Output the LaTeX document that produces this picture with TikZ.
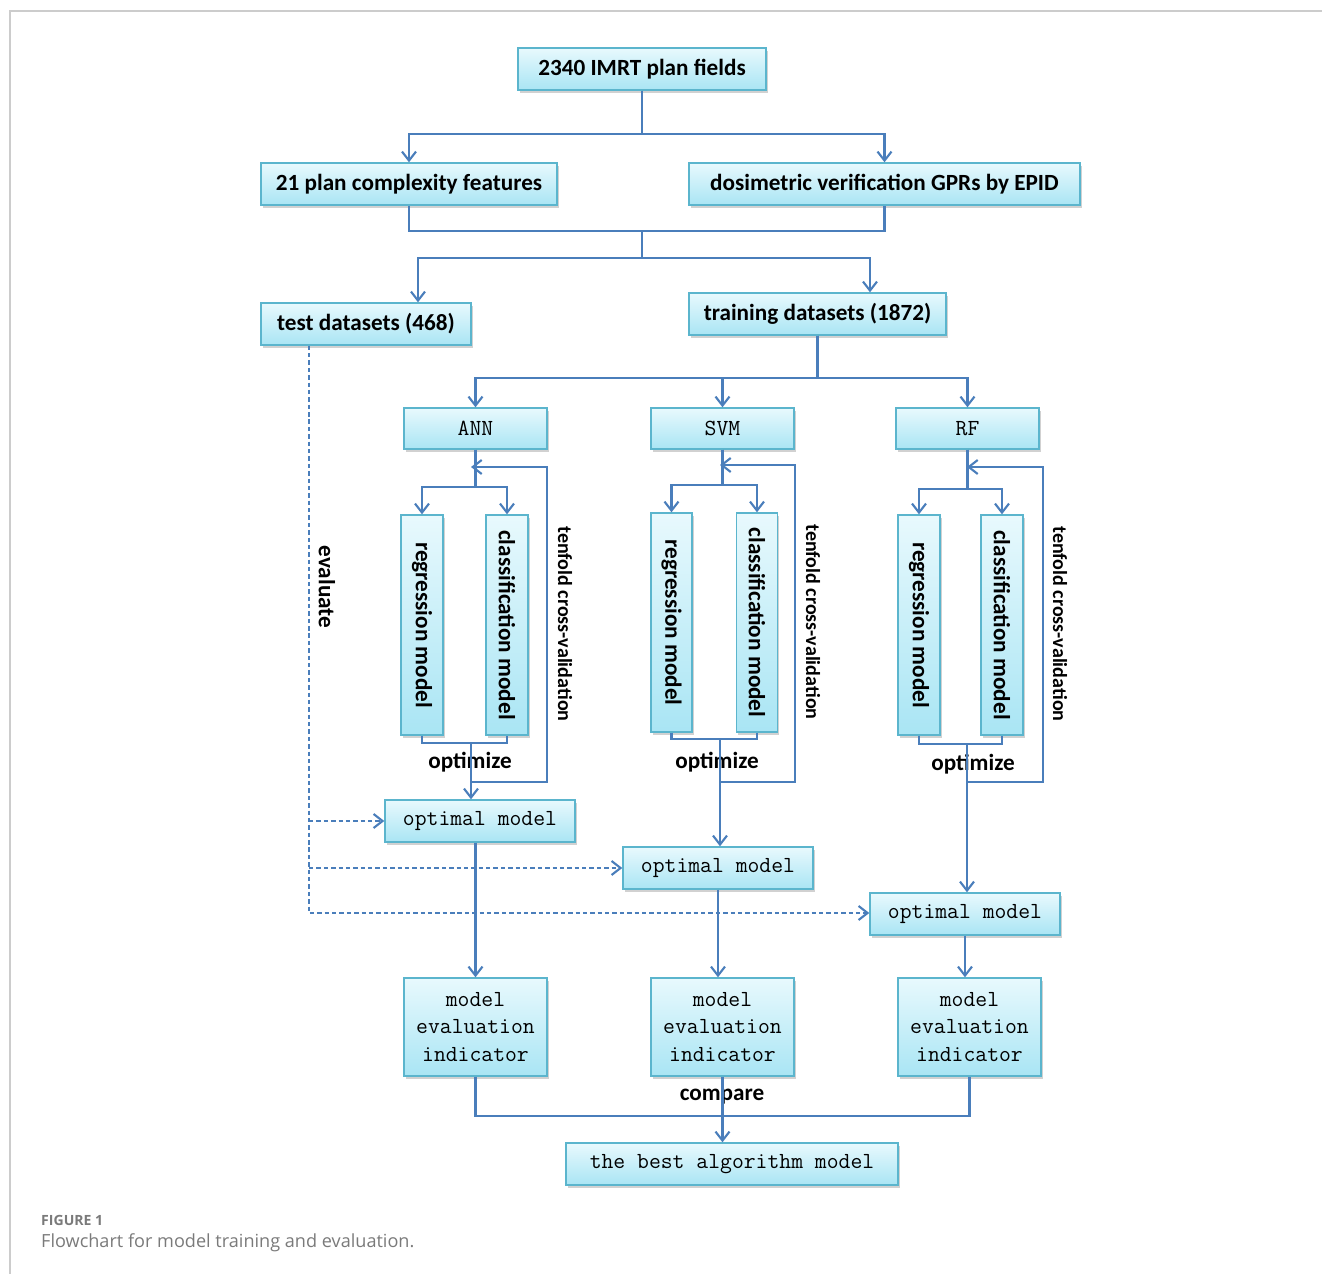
\documentclass[tikz,border=0pt]{standalone}
\usepackage{fontspec}
\setmainfont{Carlito}
\newfontfamily\capfont{Open Sans}
\usetikzlibrary{arrows.meta,shadows}

\definecolor{boxline}{HTML}{5BB5CD}
\definecolor{boxtop}{HTML}{E8F9FD}
\definecolor{boxbot}{HTML}{A9E5F4}
\definecolor{flow}{HTML}{4A7EBB}
\definecolor{framegray}{HTML}{CCCCCC}
\definecolor{captxt}{HTML}{7A7A7A}

\tikzset{
    box/.style 2 args={draw=boxline, line width=0.8pt, top color=boxtop, bottom color=boxbot,
        drop shadow={shadow xshift=1pt, shadow yshift=-1.5pt, fill=black!30, opacity=.6},
        minimum width={#1*0.02cm}, minimum height={#2*0.02cm}, inner sep=0pt},
    cal/.style={font=\bfseries\fontsize{13.2}{15}\selectfont},
    sim/.style={font=\ttfamily\fontsize{13.1}{15.9}\selectfont, align=center},
    lbl/.style={font=\bfseries\fontsize{13.2}{15}\selectfont},
    small/.style={font=\bfseries\fontsize{11.4}{13}\selectfont},
    flow/.style={draw=flow, line width=1.2pt},
    arr/.style={flow, -{Straight Barb[length=1.8mm, width=2.8mm]}},
    evline/.style={arr, dash pattern=on 2.5pt off 1.7pt},
}

\begin{document}
\begin{tikzpicture}[x=0.02cm, y=-0.02cm]
    \useasboundingbox (0,0) rectangle (1322,1274);
    \draw[framegray, line width=1pt] (10,1274) -- (10,11) -- (1322,11);

    % data
    \node[box={248}{42}, cal] (plan) at (642,69) {2340 IMRT plan fields};
    \node[box={296}{42}, cal] (feat) at (409,184) {21 plan complexity features};
    \node[box={391}{42}, cal] (gpr) at (884.5,184) {dosimetric verification GPRs by EPID};
    \node[box={210}{42}, cal] (test) at (366,324) {test datasets (468)};
    \node[box={257}{42}, cal] (train) at (817.5,314) {training datasets (1872)};

    % algorithms
    \node[box={143}{41}, sim] (ann) at (475.5,428.5) {ANN};
    \node[box={143}{41}, sim] (svm) at (722.5,428.5) {SVM};
    \node[box={143}{41}, sim] (rf) at (967.5,428.5) {RF};

    % rotated boxes: east = bottom, west = top
    \node[box={220}{42}, cal, rotate=-90] (reg1) at (422,625) {regression model};
    \node[box={220}{42}, cal, rotate=-90] (cls1) at (507,625) {classification model};
    \node[box={219}{41}, cal, rotate=-90] (reg2) at (671.5,622.5) {regression model};
    \node[box={219}{41}, cal, rotate=-90] (cls2) at (757,622.5) {classification model};
    \node[box={220}{42}, cal, rotate=-90] (reg3) at (919,625) {regression model};
    \node[box={220}{42}, cal, rotate=-90] (cls3) at (1002,625) {classification model};

    \node[box={190}{42}, sim] (opt1) at (480,821) {optimal model};
    \node[box={190}{42}, sim] (opt2) at (718,868) {optimal model};
    \node[box={190}{42}, sim] (opt3) at (965,914) {optimal model};

    \node[box={143}{98}, sim] (eval1) at (475.5,1027) {model\\evaluation\\indicator};
    \node[box={143}{98}, sim] (eval2) at (722.5,1027) {model\\evaluation\\indicator};
    \node[box={143}{98}, sim] (eval3) at (969.5,1027) {model\\evaluation\\indicator};

    \node[box={332}{42}, sim] (best) at (732,1164) {the best algorithm model};

    % labels
    \node[lbl] (opz1) at (470,762) {optimize};
    \node[lbl] (opz2) at (717,762) {optimize};
    \node[lbl] (opz3) at (973,764) {optimize};
    \node[lbl] (cmp) at (722,1097) {compare};
    \node[lbl, rotate=-90] (evl) at (327,587) {evaluate};
    \node[small, rotate=-90] (cv1) at (565,624) {tenfold cross-validation};
    \node[small, rotate=-90] (cv2) at (813,622) {tenfold cross-validation};
    \node[small, rotate=-90] (cv3) at (1060,624) {tenfold cross-validation};

    % splitting the data
    \draw[arr] (plan.south) -- ++(0,43) -| (feat);
    \draw[arr] (plan.south) -- ++(0,43) -| (gpr);
    \draw[flow] (feat.south) -- ++(0,25) -| (gpr.south);
    \coordinate (mrg) at (642,230);
    \draw[arr] (mrg) -- ++(0,28) -| ([xshift=1.04cm]test.north);
    \draw[arr] (mrg) -- ++(0,28) -| ([xshift=1.05cm]train.north);
    \draw[arr] (train.south) -- ++(0,42) -| (ann);
    \draw[arr] (train.south) -- ++(0,42) -| (svm);
    \draw[arr] (train.south) -- ++(0,42) -| (rf);

    % ANN
    \coordinate (j1) at (471,742);
    \coordinate (fb1) at (471,782);
    \coordinate (k1) at (547,467);
    \draw[arr] (ann.south) -- ++(0,37) -| (reg1);
    \draw[arr] (ann.south) -- ++(0,37) -| (cls1);
    \draw[flow] (reg1.east) -- ++(0,7) -| (cls1.east);
    \draw[arr] (j1) -- (j1 |- opt1.north);
    \draw[arr] (fb1) -| (k1) -- (k1 -| fb1);

    % SVM
    \coordinate (j2) at (720,738);
    \coordinate (fb2) at (720,782);
    \coordinate (k2) at (795,465);
    \draw[arr] (svm.south) -- ++(0,35) -| (reg2);
    \draw[arr] (svm.south) -- ++(0,35) -| (cls2);
    \draw[flow] (reg2.east) -- ++(0,6) -| (cls2.east);
    \draw[arr] (j2) -- (j2 |- opt2.north);
    \draw[arr] (fb2) -| (k2) -- (k2 -| fb2);

    % RF
    \coordinate (j3) at (967,743);
    \coordinate (fb3) at (967,782);
    \coordinate (k3) at (1043,467);
    \draw[arr] (rf.south) -- ++(0,39) -| (reg3);
    \draw[arr] (rf.south) -- ++(0,39) -| (cls3);
    \draw[flow] (reg3.east) -- ++(0,8) -| (cls3.east);
    \draw[arr] (j3) -- (j3 |- opt3.north);
    \draw[arr] (fb3) -| (k3) -- (k3 -| fb3);

    % evaluation
    \coordinate (ev) at (309,913);
    \draw[evline] (test.south -| ev) -- (ev) -- (opt3.west |- ev);
    \draw[evline] (ev |- opt1) -- (opt1.west);
    \draw[evline] (ev |- opt2) -- (opt2.west);
    \draw[arr] (eval1 |- opt1.south) -- (eval1.north);
    \draw[arr] (opt2.south) -- (opt2.south |- eval2.north);
    \draw[arr] (opt3.south) -- (opt3.south |- eval3.north);
    \draw[flow] (eval1.south) -- ++(0,39) -| (eval3.south);
    \draw[arr] (eval2.south) -- (eval2.south |- best.north);

    % caption
    \node[anchor=west, text=captxt, font=\capfont\bfseries\fontsize{8}{10}\selectfont] (fig) at (35,1220) {FIGURE 1};
    \node[anchor=west, text=captxt, font=\capfont\fontsize{10.3}{12}\selectfont] (cap) at (35,1243) {Flowchart for model training and evaluation.};
\end{tikzpicture}
\end{document}
